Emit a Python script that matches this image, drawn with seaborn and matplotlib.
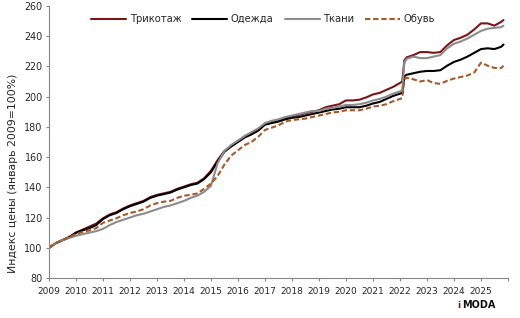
import pandas as pd
import seaborn as sns
import matplotlib
matplotlib.use("Agg")
import matplotlib.pyplot as plt


months = [
    "2009-01", "2009-04", "2009-07", "2009-10",
    "2010-01", "2010-04", "2010-07", "2010-10",
    "2011-01", "2011-04", "2011-07", "2011-10",
    "2012-01", "2012-04", "2012-07", "2012-10",
    "2013-01", "2013-04", "2013-07", "2013-10",
    "2014-01", "2014-04", "2014-07", "2014-10",
    "2015-01", "2015-04", "2015-07", "2015-10",
    "2016-01", "2016-04", "2016-07", "2016-10",
    "2017-01", "2017-04", "2017-07", "2017-10",
    "2018-01", "2018-04", "2018-07", "2018-10",
    "2019-01", "2019-04", "2019-07", "2019-10",
    "2020-01", "2020-04", "2020-07", "2020-10",
    "2021-01", "2021-04", "2021-07", "2021-10",
    "2022-02", "2022-03", "2022-04", "2022-07", "2022-10",
    "2023-01", "2023-04", "2023-07", "2023-10",
    "2024-01", "2024-04", "2024-07", "2024-10",
    "2025-01", "2025-04", "2025-07", "2025-10", "2025-11",
]

knitwear = [
    100, 103, 105, 107,
    110, 112, 114, 116,
    119.5, 122, 123.5, 126,
    128, 129.5, 131, 133.5,
    135, 136, 137, 139,
    140.5, 142, 143, 146,
    151, 158, 164, 167.5,
    170.5, 173.5, 175.5, 178,
    182, 183, 184, 186,
    187, 188, 189, 190,
    191, 193, 194, 195,
    197.5, 197.5, 198, 199.5,
    201.5, 202.5, 204.5, 206.5,
    210, 224, 226, 227.5, 229.5,
    229.5, 229, 229.5, 234,
    237.5, 239, 241, 244.5,
    248.5, 248.5, 247, 249.5, 250.7,
]

clothing = [
    100, 103, 105, 107,
    110, 111.5, 113, 115,
    119, 121.5, 123, 125.5,
    127.5, 129, 130.5, 133,
    134.5, 135.5, 136.5, 138.5,
    140, 141.5, 142.5, 145.5,
    150, 157, 163.5, 167,
    170, 173, 175, 177.5,
    181.5, 182.5, 183.5, 185,
    186, 186.5, 187.5, 188.5,
    189.5, 190.5, 191.5, 192,
    193, 193, 193, 194,
    195.5, 196.5, 198.5, 200.5,
    202.5, 213.5, 214.5, 215.5, 216.5,
    217, 217, 217.5, 220.5,
    223, 224.5, 226.5, 229,
    231.5, 232, 231.5, 233, 234.5,
]

fabrics = [
    100, 103, 105, 106.5,
    108, 109, 110, 111,
    112.5, 115, 117, 118.5,
    120, 121.5, 122.5, 124,
    125.5, 127, 128, 129.5,
    131, 133, 134.5, 137,
    141, 156, 164, 168,
    171, 174, 176.5, 179,
    182.5, 184, 185, 186.5,
    187.5, 188.5, 189.5, 190.5,
    190.5, 192, 192.5, 193.5,
    194.5, 194.5, 195, 196,
    197.5, 198.5, 200, 202,
    204, 222.5, 225, 226.5, 225.5,
    225.5, 226.5, 227.5, 232,
    235, 236.5, 238.5, 241,
    243.5, 245, 245.5, 246, 247,
]

footwear = [
    100, 103, 105, 107,
    109, 110.5, 111.5, 113,
    116.5, 118, 119.5, 121.5,
    123, 124, 125.5, 128,
    129.5, 130.5, 131, 133,
    134.5, 135, 136, 139,
    142.5, 147.5, 155, 161,
    164.5, 168, 170, 173.5,
    178, 179.5, 181, 183.5,
    184.5, 185, 185.5, 186.5,
    187.5, 188.5, 189.5, 190,
    191, 191, 191, 192,
    193.5, 194, 195, 197,
    199, 211.5, 212.5, 211.5, 210,
    211, 209, 208.5, 210.5,
    212, 213, 214, 216,
    222.5, 220.5, 219, 219, 220.5,
]

series_names = ["Трикотаж", "Одежда", "Ткани", "Обувь"]
year_ticks = [str(y) for y in range(2009, 2027)]
year_labels = [str(y) for y in range(2009, 2026)] + [""]
y_ticks = [80, 100, 120, 140, 160, 180, 200, 220, 240, 260]

colors = {"Трикотаж": "#7a1518", "Одежда": "#000000", "Ткани": "#8c8c8c", "Обувь": "#a65a2a"}
dashes = {"Трикотаж": "", "Одежда": "", "Ткани": "", "Обувь": (2.6, 1.3)}


def main():
    df = pd.DataFrame({"date": pd.to_datetime(months)})
    for name, vals in zip(series_names, [knitwear, clothing, fabrics, footwear]):
        df[name] = vals
    long_df = df.melt(id_vars="date", var_name="series", value_name="value")

    sns.set_style("white")
    plt.rcParams["font.family"] = ["DejaVu Sans"]

    fig = plt.figure(figsize=(5.2, 3.18), dpi=100)
    ax = fig.add_axes([49 / 520, 1 - 278 / 318, 459 / 520, 272 / 318])

    sns.lineplot(data=long_df, x="date", y="value", hue="series", style="series",
                 hue_order=series_names, style_order=series_names,
                 palette=colors, dashes=dashes, linewidth=1.5, ax=ax)

    ax.set_xlim(pd.Timestamp("2009-01-01"), pd.Timestamp("2026-01-01"))
    ax.set_ylim(80, 260)
    ax.set_xticks(pd.to_datetime([y + "-01-01" for y in year_ticks]))
    ax.set_xticklabels(year_labels, fontsize=6.5)
    ax.set_yticks(y_ticks)
    ax.set_yticklabels([str(v) for v in y_ticks], fontsize=6.9)
    ax.set_xlabel("")
    ax.set_ylabel("Индекс цены (январь 2009=100%)", fontsize=7.8)
    ax.yaxis.set_label_coords(-0.068, 0.385)

    for side in ["top", "right"]:
        ax.spines[side].set_visible(False)
    for side in ["left", "bottom"]:
        ax.spines[side].set_color("#868686")
        ax.spines[side].set_linewidth(0.8)
    ax.tick_params(axis="both", direction="out", length=2.5, width=0.8,
                   color="#868686", left=True, bottom=True)
    ax.tick_params(axis="x", pad=4)
    ax.tick_params(axis="y", pad=2)

    handles, labels = ax.get_legend_handles_labels()
    ax.legend(handles, labels, ncol=4, frameon=False, loc="center left",
              bbox_to_anchor=(0.160, 1 - 19 / 318), bbox_transform=fig.transFigure,
              fontsize=7.2, handlelength=3.5, handletextpad=0.35,
              columnspacing=1.1, borderpad=0.3)

    fig.text(0.880, 1 - 305 / 318, "i", color="#7a1518", fontsize=6.5,
             fontweight="bold", va="center", ha="left")
    fig.text(0.888, 1 - 305 / 318, "MODA", color="#111111", fontsize=7,
             fontweight="bold", va="center", ha="left")

    fig.savefig("out.png", dpi=100)
    plt.close(fig)


if __name__ == "__main__":
    main()
